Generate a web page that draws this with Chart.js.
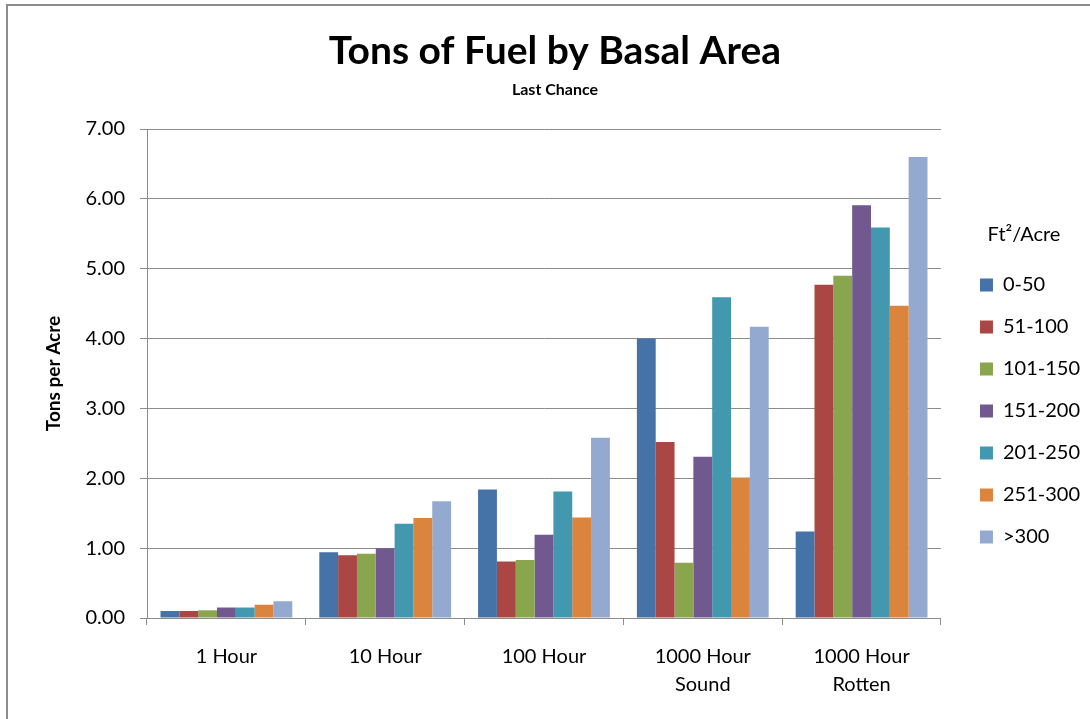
<!DOCTYPE html>
<html>
<head>
<meta charset="utf-8">
<title>Tons of Fuel by Basal Area</title>
<script src="https://cdn.jsdelivr.net/npm/chart.js@4"></script>
<style>
  html, body { margin: 0; padding: 0; background: #fff; }
  #frame { position: absolute; left: 6px; top: 4px; width: 1100px; height: 730px;
           border-left: 2px solid #8c8c8c; border-top: 2px solid #8c8c8c; }
  #wrap { position: absolute; left: 0; top: 0; width: 1090px; height: 719px; }
</style>
</head>
<body>
<div id="frame"></div>
<div id="wrap"><canvas id="fuelChart"></canvas></div>
<script>
const fuelClasses = [['1 Hour'], ['10 Hour'], ['100 Hour'], ['1000 Hour', 'Sound'], ['1000 Hour', 'Rotten']];
const basalRanges = ['0-50', '51-100', '101-150', '151-200', '201-250', '251-300', '>300'];
const rangeColors = ['#4572A7', '#AA4643', '#89A54E', '#71588F', '#4198AF', '#DB843D', '#93A9CF'];

// tons per acre, one array per basal area range
const tons0to50 = [0.10, 0.94, 1.84, 4.00, 1.24];
const tons51to100 = [0.10, 0.90, 0.81, 2.52, 4.77];
const tons101to150 = [0.11, 0.92, 0.83, 0.79, 4.90];
const tons151to200 = [0.15, 1.00, 1.19, 2.31, 5.91];
const tons201to250 = [0.15, 1.35, 1.81, 4.59, 5.59];
const tons251to300 = [0.19, 1.43, 1.44, 2.01, 4.47];
const tonsOver300 = [0.24, 1.67, 2.58, 4.17, 6.60];
const seriesValues = [tons0to50, tons51to100, tons101to150, tons151to200, tons201to250, tons251to300, tonsOver300];

const yTicks = [0, 1, 2, 3, 4, 5, 6, 7];

Chart.defaults.font.family = 'Lato';
Chart.defaults.color = '#000';

// legend width (box + gap + text + padding), so the plot keeps its right edge
let measure = document.createElement('canvas').getContext('2d');
measure.font = '20px Lato';
let legendWidth = 13 + 10 + Math.max(...basalRanges.map(t => measure.measureText(t).width)) + 10 + 22;
let padLeft = 20;

let ctx = document.getElementById('fuelChart').getContext('2d');
let chart = new Chart(ctx, {
    type: 'bar',
    data: {
        labels: fuelClasses,
        datasets: basalRanges.map((r, i) => ({
            label: r,
            data: seriesValues[i],
            backgroundColor: rangeColors[i],
            borderWidth: 0,
            categoryPercentage: 0.83,
            barPercentage: 1.0
        }))
    },
    options: {
        responsive: true,
        maintainAspectRatio: false,
        animation: false,
        layout: { padding: { left: padLeft, top: 0, bottom: 0, right: Math.max(0, 1090 - 958 - legendWidth) } },
        scales: {
            x: {
                grid: { offset: true, drawOnChartArea: false, tickLength: 7, color: '#8c8c8c' },
                border: { color: '#8c8c8c' },
                ticks: { font: { size: 20, lineHeight: 1.4 }, padding: 18, color: '#000', maxRotation: 0 },
                afterFit: (s) => { s.height = 101; }
            },
            y: {
                min: 0,
                max: 7,
                afterBuildTicks: (s) => { s.ticks = yTicks.map(v => ({ value: v })); },
                grid: { color: '#8c8c8c', tickLength: 7 },
                border: { color: '#8c8c8c' },
                ticks: { font: { size: 20 }, padding: 15, color: '#000', callback: (v) => v.toFixed(2) },
                title: { display: true, text: 'Tons per Acre', font: { size: 19, weight: 'bold' }, padding: { top: 22, bottom: 0 }, color: '#000' },
                afterFit: (s) => { s.width = 147 - padLeft; }
            },
            gap: {
                type: 'linear',
                position: 'right',
                grid: { display: false },
                border: { display: false },
                ticks: { display: false },
                afterFit: (s) => { s.width = 17; }
            }
        },
        plugins: {
            title: {
                display: true,
                text: 'Tons of Fuel by Basal Area',
                font: { size: 39, weight: 'bold' },
                color: '#000',
                padding: { top: 28, bottom: 5 }
            },
            subtitle: {
                display: true,
                text: 'Last Chance',
                font: { size: 16, weight: 'bold' },
                color: '#000',
                padding: { top: 0, bottom: 30 }
            },
            legend: {
                position: 'right',
                align: 'start',
                fullSize: false,
                labels: { boxWidth: 13, boxHeight: 13, padding: 22, font: { size: 20 }, color: '#000' },
                title: { display: true, text: 'Ft²/Acre', font: { size: 20 }, color: '#000', padding: { top: 96, bottom: 4 } }
            },
            tooltip: { enabled: false }
        }
    }
});
</script>
</body>
</html>
